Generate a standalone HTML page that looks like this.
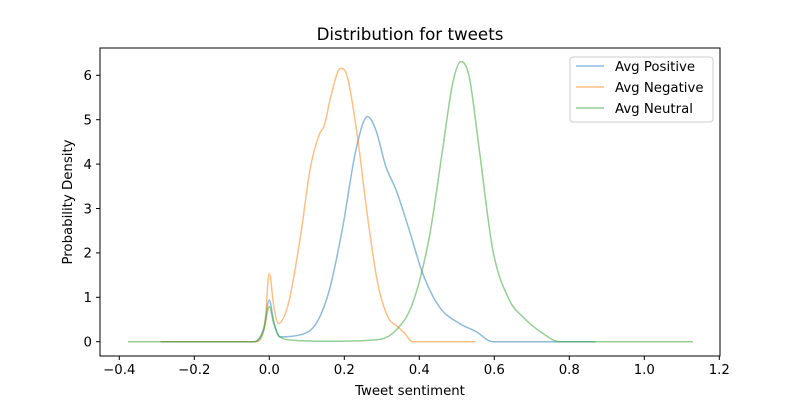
<!DOCTYPE html>
<html><head><meta charset="utf-8"><style>
body{margin:0;background:#fff;}
svg{display:block;font-family:"DejaVu Sans","Liberation Sans",sans-serif;}
</style></head><body>
<svg id="chart" width="800" height="400"></svg>
<script>
const seriesNames=["Avg Positive","Avg Negative","Avg Neutral"];
const colors=["#1f77b4","#ff7f0e","#2ca02c"];
const posX=[-0.29,-0.04,-0.015,0,0.012,0.028,0.08,0.125,0.16,0.196,0.231,0.262,0.284,0.311,0.338,0.373,0.409,0.453,0.507,0.551,0.596,0.87];
const posY=[0,0,0.3,0.94,0.45,0.11,0.15,0.41,1.16,2.59,4.32,5.07,4.77,3.94,3.42,2.52,1.54,0.79,0.41,0.23,0,0];
const negX=[-0.29,-0.035,-0.012,0,0.012,0.024,0.051,0.083,0.11,0.133,0.147,0.164,0.19,0.208,0.235,0.262,0.289,0.316,0.342,0.36,0.382,0.55];
const negY=[0,0,0.4,1.54,0.8,0.41,0.86,2.37,3.94,4.66,4.88,5.52,6.16,5.97,4.62,2.82,1.32,0.56,0.34,0.2,0,0];
const neuX=[-0.377,-0.04,-0.015,0,0.012,0.028,0.07,0.16,0.293,0.338,0.382,0.427,0.462,0.489,0.511,0.533,0.56,0.596,0.64,0.676,0.729,0.773,1.13];
const neuY=[0,0,0.25,0.79,0.4,0.11,0.03,0.01,0.05,0.26,0.86,2.37,4.32,5.82,6.31,5.97,4.32,2.07,0.94,0.56,0.19,0,0];
const xTicks=[-0.4,-0.2,0.0,0.2,0.4,0.6,0.8,1.0,1.2];
const yTicks=[0,1,2,3,4,5,6];
const NS="http://www.w3.org/2000/svg";
const svg=document.getElementById('chart');
const L=100,R=720,T=48,B=356;
const sx=v=>269.3+375*v;
const sy=v=>341.7-44.4*v;
function el(t,a,p){const e=document.createElementNS(NS,t);for(const k in a)e.setAttribute(k,a[k]);(p||svg).appendChild(e);return e;}
function path(xs,ys){
 const X=xs.map(sx),Y=ys.map(sy),n=X.length;
 const d=[],m=[];for(let i=0;i<n-1;i++)d.push((Y[i+1]-Y[i])/(X[i+1]-X[i]));
 for(let i=0;i<n;i++){if(i==0)m.push(d[0]);else if(i==n-1)m.push(d[n-2]);
  else m.push(d[i-1]*d[i]<=0?0:(d[i-1]+d[i])/2);}
 for(let i=0;i<n-1;i++){if(d[i]==0){m[i]=0;m[i+1]=0;continue;}
  const a=m[i]/d[i],b=m[i+1]/d[i],s=a*a+b*b;if(s>9){const t=3/Math.sqrt(s);m[i]=t*a*d[i];m[i+1]=t*b*d[i];}}
 let s=`M${X[0]},${Y[0]}`;
 for(let i=0;i<n-1;i++){const h=(X[i+1]-X[i])/3;
  s+=` C${X[i]+h},${Y[i]+m[i]*h} ${X[i+1]-h},${Y[i+1]-m[i+1]*h} ${X[i+1]},${Y[i+1]}`;}
 return s;}
const t=el('text',{x:410,y:40,'text-anchor':'middle','font-size':16.7});t.textContent="Distribution for tweets";

const data=[[posX,posY],[negX,negY],[neuX,neuY]];
data.forEach((s,i)=>{const p=el('path',{d:path(s[0],s[1]),fill:'none',stroke:colors[i],'stroke-width':1.5,'stroke-opacity':0.5});

});
const ax=el('rect',{x:L,y:T,width:R-L,height:B-T,fill:'none',stroke:'#000','stroke-width':1});

xTicks.forEach(v=>{const x=sx(v);el('line',{x1:x,x2:x,y1:B,y2:B+4,stroke:'#000'});
const l=el('text',{x:x,y:B+18,'text-anchor':'middle','font-size':13.3});
l.textContent=(v<0?'\u2212':'')+Math.abs(v).toFixed(1);
});
yTicks.forEach(v=>{const y=sy(v);el('line',{x1:L-4,x2:L,y1:y,y2:y,stroke:'#000'});
const l=el('text',{x:L-8,y:y+4.8,'text-anchor':'end','font-size':13.3});l.textContent=v;
});
const xt=el('text',{x:410,y:395,'text-anchor':'middle','font-size':13.3});xt.textContent="Tweet sentiment";

const yt=el('text',{x:0,y:0,'text-anchor':'middle','font-size':13.3,transform:'translate(72,202) rotate(-90)'});yt.textContent="Probability Density";

const lg=el('rect',{x:570,y:57,width:143,height:65,rx:3,fill:'#fff','fill-opacity':0.8,stroke:'#ccc'});

seriesNames.forEach((n,i)=>{const y=66+i*21;el('line',{x1:576,x2:604,y1:y,y2:y,stroke:colors[i],'stroke-width':1.5,'stroke-opacity':0.5});
const l=el('text',{x:615,y:y+5,'font-size':13.3});l.textContent=n;
});
</script>
</body></html>
